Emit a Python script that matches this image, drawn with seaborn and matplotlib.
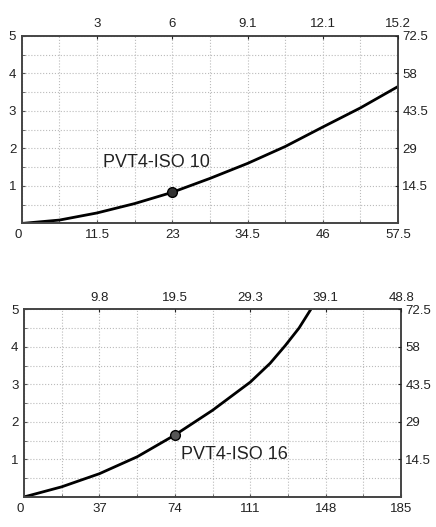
import numpy as np
import pandas as pd
import matplotlib
matplotlib.use('Agg')
import matplotlib.pyplot as plt
import matplotlib.transforms as mtransforms
import seaborn as sns

# 数据：流量 (l/min) 与压降 (bar)
iso10_flow = [0, 5.75, 11.5, 17.25, 23, 28.75, 34.5, 40.25, 46, 51.75, 57.5]
iso10_dp = [0, 0.09, 0.28, 0.53, 0.83, 1.2, 1.6, 2.05, 2.57, 3.08, 3.65]
iso16_flow = [0, 18.5, 37, 55.5, 74, 92.5, 111, 120.7, 128.1, 134.9, 140.7]
iso16_dp = [0, 0.27, 0.62, 1.07, 1.65, 2.31, 3.06, 3.56, 4.03, 4.5, 5.0]

iso10_ticks = [0, 11.5, 23, 34.5, 46, 57.5]
iso10_top_labels = ['3', '6', '9.1', '12.1', '15.2']
iso16_ticks = [0, 37, 74, 111, 148, 185]
iso16_top_labels = ['9.8', '19.5', '29.3', '39.1', '48.8']
bar_ticks = [1, 2, 3, 4, 5]
psi_labels = ['14.5', '29', '43.5', '58', '72.5']

iso10_point = (23, 0.83)
iso16_point = (74, 1.65)

sns.set_style('white')
plt.rcParams['font.family'] = ['Liberation Sans', 'DejaVu Sans']
ink = '#222222'

fig = plt.figure(figsize=(4.36, 5.27), dpi=100)
ax1 = fig.add_axes([0.050, 0.576, 0.863, 0.356])
ax2 = fig.add_axes([0.055, 0.057, 0.865, 0.356])


def style_panel(ax, xmax, xticks, top_labels):
    ax.set_xlim(0, xmax)
    ax.set_ylim(0, 5)
    ax.set_xticks(xticks)
    ax.set_xticklabels([str(t) if t != int(t) else str(int(t)) for t in xticks])
    zero = ax.get_xticklabels()[0]
    zero.set_horizontalalignment('right')
    zero.set_transform(zero.get_transform() +
                       mtransforms.ScaledTranslation(-4 / 72, 0, fig.dpi_scale_trans))
    ax.set_yticks(bar_ticks)
    ax.set_yticklabels([str(t) for t in bar_ticks])
    step = xticks[1] / 2
    ax.set_xticks(np.arange(0, xmax + 0.01, step), minor=True)
    ax.set_yticks(np.arange(0, 5.01, 0.5), minor=True)
    ax.grid(which='both', color='#bbbbbb', linestyle=':', linewidth=0.8)
    ax.tick_params(which='both', direction='in', length=2, color='#555555',
                   labelsize=9.5, pad=4, labelcolor=ink)
    for s in ax.spines.values():
        s.set_color('#444444')
        s.set_linewidth(1.4)
    # 上方 gpm
    top = ax.twiny()
    top.set_xlim(ax.get_xlim())
    top.set_xticks(xticks[1:])
    top.set_xticklabels(top_labels)
    top.tick_params(direction='in', length=2, labelsize=9.5, pad=4, labelcolor=ink)
    # 右侧 psi
    right = ax.twinx()
    right.set_ylim(ax.get_ylim())
    right.set_yticks(bar_ticks)
    right.set_yticklabels(psi_labels)
    right.tick_params(direction='in', length=2, labelsize=9.5, pad=3, labelcolor=ink)
    for t in (top, right):
        for s in t.spines.values():
            s.set_visible(False)
    ax.set_xlabel('')
    ax.set_ylabel('')


sns.lineplot(x=iso10_flow, y=iso10_dp, ax=ax1, color='black', linewidth=2)
ax1.plot(*iso10_point, 'o', ms=7, mfc='#333333', mec='black', mew=1)
ax1.text(12.4, 1.63, 'PVT4-ISO 10', fontsize=13, va='center', color=ink)
style_panel(ax1, 57.5, iso10_ticks, iso10_top_labels)

sns.lineplot(x=iso16_flow, y=iso16_dp, ax=ax2, color='black', linewidth=2)
ax2.plot(*iso16_point, 'o', ms=7, mfc='#555555', mec='black', mew=1)
ax2.text(76.8, 1.14, 'PVT4-ISO 16', fontsize=13, va='center', color=ink)
style_panel(ax2, 185, iso16_ticks, iso16_top_labels)

fig.savefig('out.png', dpi=100)
